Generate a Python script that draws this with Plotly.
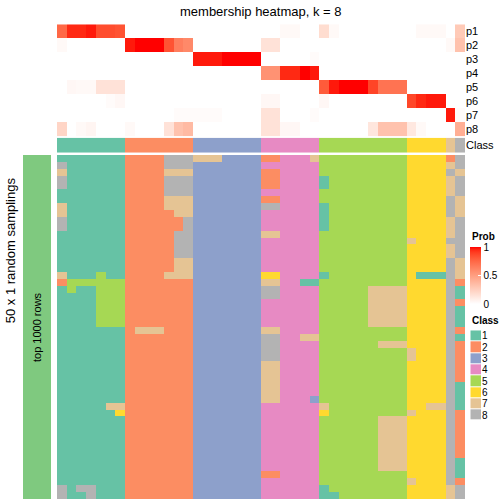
import numpy as np
import plotly.graph_objects as go

# ---------------- data ----------------
class_names = ["1", "2", "3", "4", "5", "6", "7", "8"]
class_colors = ["#66C2A5", "#FC8D62", "#8DA0CB", "#E78AC3",
                "#A6D854", "#FFD92F", "#E5C494", "#B3B3B3"]

# consensus class of each column (42 samples)
column_class = "1111111 2222222 3333333 444444 555555555 6666 7 8"

# class assigned in each of the 50 random samplings (rows) for each column
sampling_rows = [
    "1111111 2222888 7773333 224447 555555555 6666 2 8",
    "8111111 2222888 3333333 444444 555555555 6666 7 8",
    "7111111 2222777 3333333 224444 555555555 6666 8 7",
    "8111111 2222888 3333333 224444 155555555 6666 7 8",
    "8111111 2222888 3333333 224444 155555555 6666 7 8",
    "1111111 2222888 3333333 444444 555555555 6666 7 8",
    "1111111 2222777 3333333 224444 555555555 6666 8 7",
    "7111111 2222777 3333333 884444 155555555 6666 8 7",
    "7111111 2222277 3333333 444444 155555555 6666 8 7",
    "8111111 2222228 3333333 444444 155555555 6666 7 8",
    "8111111 2222228 3333333 444444 155555555 6666 7 8",
    "1111111 2222288 3333333 774444 555555555 6666 7 8",
    "1111111 2222288 3333333 444444 555555555 7666 8 8",
    "1111111 2222288 3333333 444444 555555555 6666 7 8",
    "1111111 2222288 3333333 444444 555555555 6666 7 8",
    "1111111 2222277 3333333 444444 555555555 6666 8 7",
    "1111111 2222277 3333333 444444 555555555 6666 8 7",
    "7111511 2222777 3333333 664444 155555555 6111 8 7",
    "2555555 2222222 3333333 774411 555555555 6666 8 2",
    "1511555 2222222 3333333 884444 555557777 6666 8 1",
    "1111555 2222222 3333333 884444 555557777 6666 8 1",
    "1111555 2222222 3333333 444444 555557777 6666 8 2",
    "1111555 2222222 3333333 444444 555557777 6666 8 1",
    "1111555 2222222 3333333 444444 555557777 6666 8 1",
    "1111555 2222222 3333333 444444 555557777 6666 8 1",
    "1111111 2777222 3333333 774444 555555555 6666 8 2",
    "1111111 2222222 3333333 884477 555555555 6666 8 1",
    "1111111 2222222 3333333 884444 555555777 6666 8 2",
    "1111111 2222222 3333333 884444 555555555 7666 8 2",
    "1111111 2222222 3333333 884444 555555555 7666 8 2",
    "1111111 2222222 3333333 774444 555555555 6666 8 2",
    "1111111 2222222 3333333 774444 555555555 6666 8 2",
    "1111111 2222222 3333333 774444 555555555 6666 8 2",
    "1111111 2222222 3333333 774444 555555555 6666 8 1",
    "1111111 2222222 3333333 774444 555555555 6666 8 1",
    "1111111 2222222 3333333 774443 555555555 6666 8 1",
    "1111177 2222222 3333333 444444 755555555 6677 8 1",
    "1111116 2222222 3333333 444444 655555555 7666 8 2",
    "1111111 2222222 3333333 444444 555555777 6666 8 2",
    "1111111 2222222 3333333 444444 555555777 6666 8 2",
    "1111111 2222222 3333333 444444 555555777 6666 8 2",
    "1111111 2222222 3333333 444444 555555777 6666 8 2",
    "1111111 2222222 3333333 444444 555555777 6666 8 2",
    "1111111 2222222 3333333 444444 555555777 6666 8 2",
    "1111111 2222222 3333333 444444 555555777 6666 8 1",
    "1111111 2222222 3333333 444444 555555777 6666 8 1",
    "1111111 2222222 3333333 224444 555555555 6666 8 1",
    "1111111 2222222 3333333 444444 555555555 7666 8 2",
    "8188111 2222222 3333333 444444 155555555 6666 7 8",
    "8118111 2222222 3333333 444444 115555555 6666 7 8",
]

prob_labels = ["p1", "p2", "p3", "p4", "p5", "p6", "p7", "p8"]
#            cols 0-6 | 7-13 | 14-20 | 21-26 | 27-35 | 36-39 | 40 | 41
p1 = [0.75, 0.95, 0.95, 0.97, 0.85, 0.85, 0.83] + [0] * 7 + [0] * 7 + \
     [0, 0, 0.03, 0.03, 0, 0] + [0.18, 0.03, 0, 0, 0, 0, 0, 0, 0] + \
     [0, 0.03, 0.03, 0.03] + [0] + [0.28]
p2 = [0.03, 0, 0, 0, 0, 0, 0] + [0.97, 1, 1, 1, 0.83, 0.65, 0.6] + [0] * 7 + \
     [0.15, 0.15, 0, 0, 0, 0] + [0] * 9 + [0, 0, 0, 0] + [0.03] + [0.32]
p3 = [0] * 7 + [0] * 7 + [0.97, 0.97, 0.97, 1, 1, 1, 1] + \
     [0, 0, 0, 0, 0, 0.02] + [0] * 9 + [0] * 4 + [0] + [0]
p4 = [0] * 7 + [0] * 7 + [0] * 7 + [0.56, 0.56, 0.95, 0.95, 1, 0.97] + \
     [0] * 9 + [0] * 4 + [0] + [0]
p5 = [0, 0.04, 0.03, 0.03, 0.15, 0.15, 0.15] + [0] * 7 + [0] * 7 + [0] * 6 + \
     [0.8, 0.97, 1, 1, 1, 0.88, 0.7, 0.7, 0.7] + [0] * 4 + [0] + [0]
p6 = [0, 0, 0, 0, 0, 0.02, 0.04] + [0] * 7 + [0] * 7 + [0.04, 0.04, 0, 0, 0, 0] + \
     [0.04, 0, 0, 0, 0, 0, 0, 0, 0] + [0.87, 0.95, 0.97, 0.97] + [0] + [0]
p7 = [0] * 7 + [0, 0, 0, 0, 0, 0.02, 0.02] + [0.02, 0.02, 0.02, 0, 0, 0, 0] + \
     [0.15, 0.15, 0, 0, 0, 0.02] + [0] * 9 + [0] * 4 + [0.97] + [0.02]
p8 = [0.22, 0, 0.03, 0.05, 0, 0, 0] + [0.03, 0, 0, 0, 0.15, 0.32, 0.36] + [0] * 7 + \
     [0.15, 0.15, 0.04, 0.04, 0, 0] + [0, 0, 0, 0, 0, 0.13, 0.32, 0.32, 0.32] + \
     [0.12, 0.03, 0, 0] + [0] + [0.42]
prob_values = [p1, p2, p3, p4, p5, p6, p7, p8]

prob_ticks = [0, 0.5, 1]
prob_ticktext = ["0", "0.5", "1"]

sampling_label = "top 1000 rows"
title_text = "membership heatmap, k = 8"
row_title = "50 x 1 random samplings"

# ---------------- helpers ----------------
def parse(s):
    return [int(c) for c in s.replace(" ", "")]

Z_main = [parse(r) for r in sampling_rows]
Z_class = [parse(column_class)]
n_rows = len(Z_main)
n_cols = len(Z_main[0])


def srgb_to_lin(c):
    c = c / 255.0
    return np.where(c <= 0.04045, c / 12.92, ((c + 0.055) / 1.055) ** 2.4)


def lin_to_srgb(c):
    c = np.clip(c, 0, 1)
    return np.where(c <= 0.0031308, 12.92 * c, 1.055 * c ** (1 / 2.4) - 0.055) * 255


M = np.array([[0.4124, 0.3576, 0.1805], [0.2126, 0.7152, 0.0722], [0.0193, 0.1192, 0.9505]])
WHITE = np.array([0.95047, 1.0, 1.08883])


def rgb_to_lab(rgb):
    xyz = M @ srgb_to_lin(np.array(rgb, float)) / WHITE
    f = np.where(xyz > 0.008856, np.cbrt(xyz), 7.787 * xyz + 16 / 116)
    return np.array([116 * f[1] - 16, 500 * (f[0] - f[1]), 200 * (f[1] - f[2])])


def lab_to_rgb(lab):
    fy = (lab[0] + 16) / 116
    fx = fy + lab[1] / 500
    fz = fy - lab[2] / 200
    f = np.array([fx, fy, fz])
    xyz = np.where(f ** 3 > 0.008856, f ** 3, (f - 16 / 116) / 7.787) * WHITE
    rgb = lin_to_srgb(np.linalg.inv(M) @ xyz)
    return "rgb(%d,%d,%d)" % tuple(np.round(rgb).astype(int))


lab_w = rgb_to_lab([255, 255, 255])
lab_r = rgb_to_lab([255, 0, 0])
prob_scale = [[t, lab_to_rgb(lab_w + (lab_r - lab_w) * t)] for t in np.linspace(0, 1, 21)]

n_cls = len(class_colors)
class_scale = []
for i, c in enumerate(class_colors):
    class_scale.append([i / n_cls, c])
    class_scale.append([(i + 1) / n_cls, c])

# ---------------- geometry (pixels from top-left) ----------------
W = H = 504.0
def px(x):
    return x / W
def py(y):
    return 1 - y / H

x_body = [px(57), px(465)]
y_main = [py(499), py(155)]
y_cls = [py(152.7), py(137.7)]
y_prob = [py(136.3), py(24.3)]

FONT = "Liberation Sans, Arial, Helvetica, sans-serif"

fig = go.Figure()

# main sampling heatmap
fig.add_trace(go.Heatmap(z=Z_main, x=list(range(n_cols)), y=list(range(n_rows)),
                         colorscale=class_scale, zmin=0.5, zmax=n_cls + 0.5,
                         showscale=False, hoverinfo="skip", xaxis="x", yaxis="y"))
# class annotation bar
fig.add_trace(go.Heatmap(z=Z_class, x=list(range(n_cols)), y=[0],
                         colorscale=class_scale, zmin=0.5, zmax=n_cls + 0.5,
                         showscale=False, hoverinfo="skip", xaxis="x", yaxis="y2"))
# membership probabilities
fig.add_trace(go.Heatmap(z=prob_values, x=list(range(n_cols)), y=list(range(len(prob_labels))),
                         colorscale=prob_scale, zmin=0, zmax=1, hoverinfo="skip",
                         xaxis="x", yaxis="y3",
                         colorbar=dict(x=px(469.5), xanchor="left", y=py(275.7), yanchor="middle",
                                       len=57, lenmode="pixels", thickness=11,
                                       thicknessmode="pixels", outlinewidth=0,
                                       xpad=0, ypad=0, tickvals=prob_ticks,
                                       ticktext=prob_ticktext, ticks="inside",
                                       tickcolor="white", ticklen=3,
                                       tickfont=dict(size=10, family=FONT))))
# left row annotation bar
fig.add_trace(go.Heatmap(z=[[1]], x=[0], y=[0], colorscale=[[0, "#7FC97F"], [1, "#7FC97F"]],
                         showscale=False, hoverinfo="skip", xaxis="x2", yaxis="y4"))
# class legend swatches
fig.add_trace(go.Heatmap(z=[[i + 1] for i in range(n_cls)], x=[0], y=list(range(n_cls)),
                         colorscale=class_scale, zmin=0.5, zmax=n_cls + 0.5, ygap=1,
                         showscale=False, hoverinfo="skip", xaxis="x3", yaxis="y5"))

hidden = dict(visible=False, showgrid=False, zeroline=False, fixedrange=True)
fig.update_layout(
    width=504, height=504, margin=dict(l=0, r=0, t=0, b=0),
    plot_bgcolor="white", paper_bgcolor="white",
    font=dict(family=FONT, color="black"),
    xaxis=dict(domain=x_body, range=[-0.5, n_cols - 0.5], anchor="y", **hidden),
    yaxis=dict(domain=y_main, range=[n_rows - 0.5, -0.5], anchor="x", **hidden),
    yaxis2=dict(domain=y_cls, range=[0.5, -0.5], anchor="x", side="right",
                tickvals=[0], ticktext=["Class"], ticks="", showgrid=False,
                zeroline=False, showline=False, tickfont=dict(size=11)),
    yaxis3=dict(domain=y_prob, range=[len(prob_labels) - 0.5, -0.5], anchor="x", side="right",
                tickvals=list(range(len(prob_labels))), ticktext=prob_labels, ticks="",
                showgrid=False, zeroline=False, showline=False, tickfont=dict(size=11)),
    xaxis2=dict(domain=[px(23), px(51)], range=[-0.5, 0.5], anchor="y4", **hidden),
    yaxis4=dict(domain=y_main, range=[0.5, -0.5], anchor="x2", **hidden),
    xaxis3=dict(domain=[px(470.3), px(481)], range=[-0.5, 0.5], anchor="y5", **hidden),
    yaxis5=dict(domain=[py(420.7), py(330.3)], range=[n_cls - 0.5, -0.5], anchor="x3",
                side="right", tickvals=list(range(n_cls)), ticktext=class_names, ticks="",
                showgrid=False, zeroline=False, showline=False, tickfont=dict(size=10)),
)

fig.add_annotation(text=title_text, x=px(261), y=py(11.5), xref="paper", yref="paper",
                   showarrow=False, font=dict(size=13), xanchor="center", yanchor="middle")
fig.add_annotation(text=row_title, x=px(10.5), y=py(250.8), xref="paper", yref="paper",
                   showarrow=False, textangle=-90, font=dict(size=13),
                   xanchor="center", yanchor="middle")
fig.add_annotation(text=sampling_label, x=0, y=0, xref="x2", yref="y4",
                   showarrow=False, textangle=-90, font=dict(size=11))
fig.add_annotation(text="<b>Prob</b>", x=px(469.5), y=py(236.5), xref="paper", yref="paper",
                   showarrow=False, font=dict(size=10), xanchor="left", yanchor="middle")
fig.add_annotation(text="<b>Class</b>", x=px(469.5), y=py(320.5), xref="paper", yref="paper",
                   showarrow=False, font=dict(size=10), xanchor="left", yanchor="middle")

# the page's default 8px body margin would shift the 504x504 figure; remove it
fig.write_html("out.html", config={"displayModeBar": False},
               post_script="document.body.style.margin='0px';")
